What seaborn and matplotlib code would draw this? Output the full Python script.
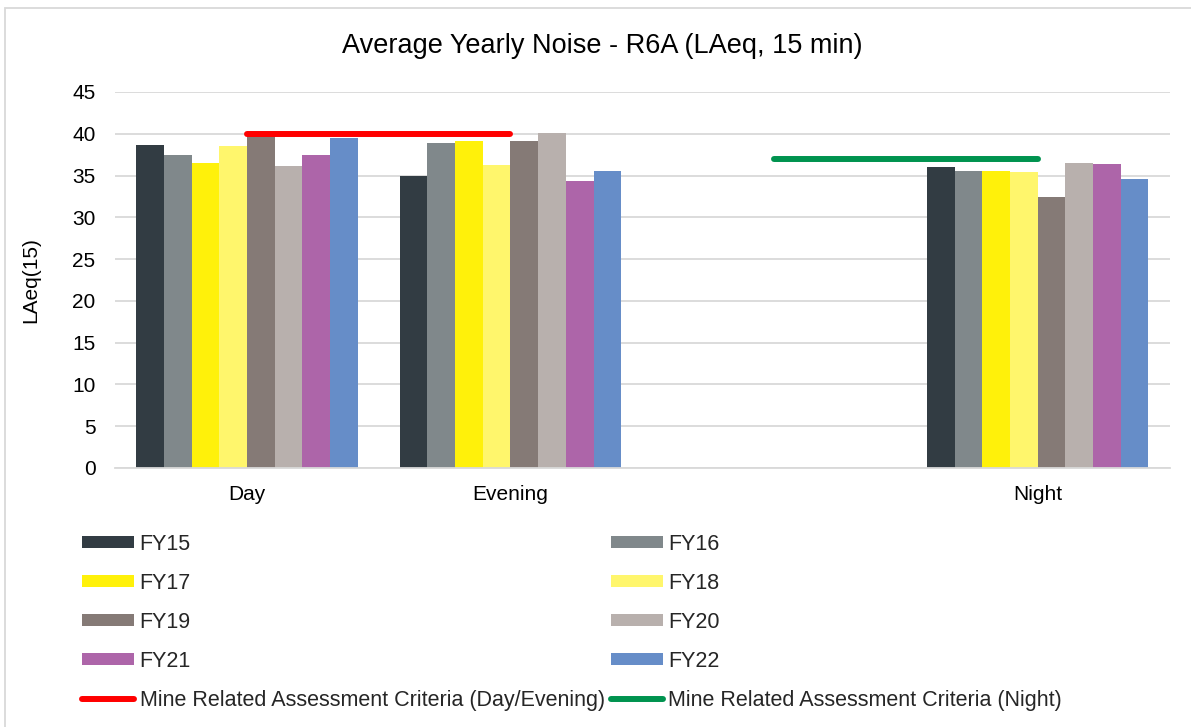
import matplotlib
matplotlib.use("Agg")
import matplotlib.pyplot as plt
import matplotlib.patches as mpatches
import pandas as pd
import seaborn as sns

# data
periods = ["Day", "Evening", "", "Night"]
years = ["FY15", "FY16", "FY17", "FY18", "FY19", "FY20", "FY21", "FY22"]
day = [38.7, 37.4, 36.5, 38.5, 39.8, 36.1, 37.4, 39.5]
evening = [34.9, 38.9, 39.1, 36.2, 39.1, 40.1, 34.4, 35.5]
night = [36.0, 35.6, 35.5, 35.4, 32.4, 36.5, 36.4, 34.6]
criteria_day_evening = [40, 40]
criteria_day_evening_periods = ["Day", "Evening"]
criteria_night = [37, 37]
criteria_night_periods = ["", "Night"]

colors = ["#323c43", "#80888b", "#fff10a", "#fff66c",
          "#857a76", "#b8b0ad", "#ad65a9", "#668dc8"]

rows = []
for period, vals in zip(["Day", "Evening", "Night"], [day, evening, night]):
    for yr, v in zip(years, vals):
        rows.append({"period": period, "year": yr, "value": v})
df = pd.DataFrame(rows)

sns.set_style("white")
plt.rcParams["font.family"] = ["Liberation Sans", "DejaVu Sans"]

fig = plt.figure(figsize=(11.91, 7.27), dpi=100)
ax = fig.add_axes([0.0966, 0.3563, 0.8854, 0.5172])

sns.barplot(data=df, x="period", y="value", hue="year", order=periods,
            hue_order=years, palette=colors, width=0.84, linewidth=0,
            saturation=1, ax=ax)

# legend handles from seaborn, then drop the axes legend
leg = ax.get_legend()
bar_handles = list(leg.legend_handles)
leg.remove()

pos = {p: i for i, p in enumerate(periods)}
red, = ax.plot([pos[p] for p in criteria_day_evening_periods], criteria_day_evening,
               color="#ff0000", lw=4.3, solid_capstyle="round",
               label="Mine Related Assessment Criteria (Day/Evening)")
green, = ax.plot([pos[p] for p in criteria_night_periods], criteria_night,
                 color="#00934f", lw=4.3, solid_capstyle="round",
                 label="Mine Related Assessment Criteria (Night)")

ax.set_xlim(-0.5, 3.5)
ax.set_ylim(0, 45)
ax.set_yticks(range(0, 46, 5))
ax.yaxis.grid(True, color="#d9d9d9", lw=1.3)
ax.set_axisbelow(True)
for s in ["left", "right", "top"]:
    ax.spines[s].set_visible(False)
ax.spines["bottom"].set_color("#d9d9d9")
ax.spines["bottom"].set_linewidth(1.3)
ax.tick_params(axis="both", length=0, labelsize=15, colors="black")
ax.tick_params(axis="y", pad=14)
ax.tick_params(axis="x", pad=12)
ax.set_xlabel("")
ax.set_ylabel("LAeq(15)", fontsize=15, color="black")
ax.yaxis.set_label_coords(-0.0711, 0.5)
fig.suptitle("Average Yearly Noise - R6A (LAeq, 15 min)", fontsize=19.5,
             x=0.5055, y=1 - 46 / 727, va="center", color="black")

# row-major order for a 2-column legend
handles = [bar_handles[0], bar_handles[2], bar_handles[4], bar_handles[6], red,
           bar_handles[1], bar_handles[3], bar_handles[5], bar_handles[7], green]
labels = [years[0], years[2], years[4], years[6], red.get_label(),
          years[1], years[3], years[5], years[7], green.get_label()]
fig.legend(handles, labels, loc="upper left", bbox_to_anchor=(0.062, 0.278),
           ncol=2, frameon=False, fontsize=15.5, handlelength=2.4,
           handleheight=0.5, handletextpad=0.25, columnspacing=0.3,
           labelspacing=0.84, borderaxespad=0)

# chart border (cropped on right and bottom)
fig.patches.append(mpatches.Rectangle((5 / 1191, -0.1), 1.2, 1.1 - 8 / 727,
                                      transform=fig.transFigure, fill=False,
                                      edgecolor="#d9d9d9", lw=1.3))

fig.savefig("out.png", dpi=100)
